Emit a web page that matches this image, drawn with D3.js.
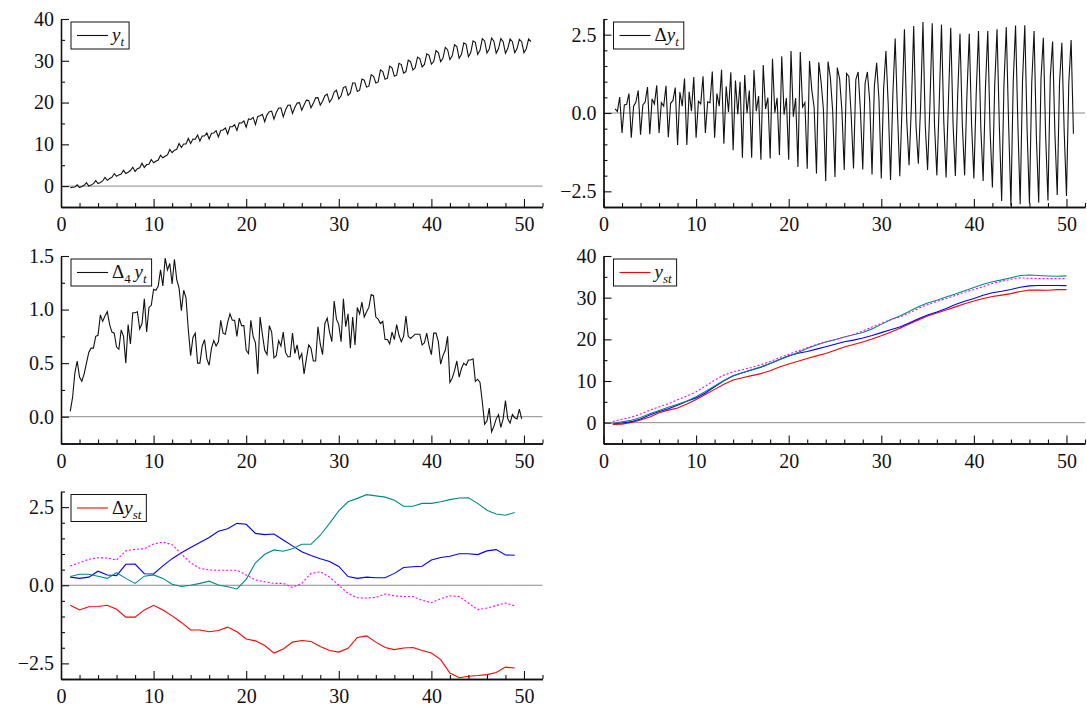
<!DOCTYPE html>
<html>
<head>
<meta charset="utf-8">
<script src="https://cdn.jsdelivr.net/npm/d3@7"></script>
<style>
  body { margin: 0; background: #fff; }
  svg { display: block; }
  svg text { font-family: "Liberation Serif", "Times New Roman", Tinos, "Nimbus Roman", "FreeSerif", "Noto Serif", "DejaVu Serif", serif !important; }
</style>
</head>
<body>
<div id="chart"></div>
<script>
// Seasonal levels y_st, years 1..50 (Q1 red, Q2 blue, Q3 teal, Q4 magenta)
const years = d3.range(1, 51);
const yQ1 = [-0.40, -0.35, 0.02, 0.62, 1.38, 2.36, 3.01, 3.51, 4.48, 5.58,
  6.77, 7.99, 9.23, 10.22, 10.79, 11.29, 11.77, 12.47, 13.35, 14.10,
  14.72, 15.41, 16.03, 16.58, 17.37, 18.15, 18.74, 19.38, 20.06, 20.85,
  21.71, 22.67, 23.69, 24.67, 25.60, 26.32, 27.04, 27.79, 28.54, 29.21,
  29.79, 30.28, 30.60, 30.97, 31.50, 31.85, 31.81, 31.79, 31.94, 31.93];
const yQ2 = [-0.27, -0.09, 0.24, 0.88, 1.83, 2.69, 3.32, 4.18, 5.16, 5.95,
  7.13, 8.61, 10.08, 11.26, 12.00, 12.66, 13.30, 14.20, 15.16, 16.08,
  16.67, 17.07, 17.65, 18.22, 18.82, 19.41, 19.81, 20.33, 20.91, 21.61,
  22.31, 22.95, 23.91, 24.93, 25.84, 26.56, 27.42, 28.36, 29.13, 29.82,
  30.60, 31.17, 31.53, 31.98, 32.51, 32.83, 32.91, 32.93, 32.91, 32.89];
const yQ3 = [-0.22, 0.19, 0.59, 1.23, 2.12, 2.91, 3.72, 4.40, 5.22, 6.24,
  7.46, 8.83, 10.11, 11.22, 12.00, 12.72, 13.43, 14.21, 15.11, 15.96,
  16.86, 17.79, 18.64, 19.35, 19.91, 20.58, 21.12, 21.64, 22.51, 23.59,
  24.69, 25.62, 26.69, 27.83, 28.70, 29.38, 30.14, 30.89, 31.66, 32.44,
  33.22, 33.84, 34.27, 34.77, 35.31, 35.45, 35.31, 35.21, 35.15, 35.22];
const yQ4 = [0.29, 0.81, 1.31, 2.06, 3.00, 3.78, 4.53, 5.50, 6.37, 7.41,
  8.78, 10.21, 11.41, 12.22, 12.72, 13.26, 13.92, 14.69, 15.59, 16.44,
  17.19, 17.96, 18.75, 19.41, 19.97, 20.51, 21.18, 22.02, 22.94, 23.85,
  24.69, 25.36, 26.29, 27.42, 28.31, 29.10, 29.80, 30.53, 31.30, 31.96,
  32.66, 33.41, 33.93, 34.41, 34.74, 34.67, 34.58, 34.56, 34.58, 34.56];

// Quarterly changes split by season, Δy_st, complete years (plotted 1..49)
const dyYears = d3.range(1, 50);
const dyQ1 = [-0.64, -0.79, -0.69, -0.68, -0.64, -0.77, -1.02, -1.02, -0.79, -0.64,
  -0.79, -0.98, -1.19, -1.43, -1.43, -1.49, -1.45, -1.34, -1.49, -1.72,
  -1.78, -1.93, -2.17, -2.04, -1.82, -1.77, -1.80, -1.96, -2.09, -2.14,
  -2.02, -1.67, -1.62, -1.82, -1.99, -2.06, -2.01, -1.99, -2.09, -2.17,
  -2.38, -2.81, -2.96, -2.91, -2.89, -2.86, -2.79, -2.62, -2.65];
const dyQ2 = [0.26, 0.22, 0.26, 0.45, 0.33, 0.31, 0.67, 0.68, 0.37, 0.36,
  0.62, 0.85, 1.04, 1.21, 1.37, 1.53, 1.73, 1.81, 1.98, 1.95,
  1.66, 1.62, 1.64, 1.45, 1.26, 1.07, 0.95, 0.85, 0.76, 0.60,
  0.28, 0.22, 0.26, 0.24, 0.24, 0.38, 0.57, 0.59, 0.61, 0.81,
  0.89, 0.93, 1.01, 1.01, 0.98, 1.10, 1.14, 0.97, 0.96];
const dyQ3 = [0.28, 0.35, 0.35, 0.29, 0.22, 0.40, 0.22, 0.06, 0.29, 0.33,
  0.22, 0.03, -0.04, 0.00, 0.06, 0.13, 0.01, -0.05, -0.12, 0.19,
  0.72, 0.99, 1.13, 1.09, 1.17, 1.31, 1.31, 1.60, 1.98, 2.38,
  2.67, 2.78, 2.90, 2.86, 2.82, 2.72, 2.53, 2.53, 2.62, 2.62,
  2.67, 2.74, 2.79, 2.80, 2.62, 2.40, 2.28, 2.24, 2.33];
const dyQ4 = [0.62, 0.72, 0.83, 0.88, 0.87, 0.81, 1.10, 1.15, 1.17, 1.32,
  1.38, 1.30, 1.00, 0.72, 0.54, 0.49, 0.48, 0.48, 0.48, 0.33,
  0.17, 0.11, 0.06, 0.06, -0.07, 0.06, 0.38, 0.43, 0.26, 0.00,
  -0.26, -0.40, -0.41, -0.39, -0.28, -0.34, -0.36, -0.36, -0.48, -0.56,
  -0.43, -0.34, -0.36, -0.57, -0.78, -0.73, -0.65, -0.57, -0.66];
// Δy_t in the first, incomplete year (quarters 2-4)
const dyFirst = [0.13, 0.05, 0.51];

const seasonColors = ["#ff0000", "#0000ff", "#008a84", "#ff00ff"];
const seasonDash = [null, null, null, "2,2"];

const xMajor = [0, 10, 20, 30, 40, 50];
const xMinor = d3.range(2, 53, 2).filter(v => v % 10 !== 0);

// Build the quarterly series from the seasonal arrays
const levels = [yQ1, yQ2, yQ3, yQ4];
const diffs = [dyQ1, dyQ2, dyQ3, dyQ4];

const yt = [];
years.forEach((yr, i) => levels.forEach((s, q) => yt.push({ x: yr + q / 4, y: s[i] })));

const dyt = dyFirst.map((v, q) => ({ x: 1.25 + q / 4, y: v }));
dyYears.forEach((yr, i) => diffs.forEach((s, q) => dyt.push({ x: yr + 1 + q / 4, y: s[i] })));

// annual change = sum of four consecutive quarterly changes
const d4yt = d3.range(dyt.length - 3).map(j => ({
  x: 1 + j / 4,
  y: d3.sum(dyt.slice(j, j + 4), d => d.y)
}));

const W = 1087, H = 706;
const svg = d3.select("#chart").append("svg").attr("width", W).attr("height", H);

const plotW = 481.5;
const cols = [61, 603.5];
const rows = [[19, 207], [256, 443.5], [491.5, 679]];
const x = d3.scaleLinear().domain([0, 52]).range([0, plotW]);

const line = (y) => d3.line().x(d => x(d.x)).y(d => y(d.y));

function drawPanel(opt) {
  const [top, bottom] = opt.row;
  const g = svg.append("g").attr("transform", `translate(${opt.left},0)`);
  const y = d3.scaleLinear().domain(opt.yDomain).range([bottom, top]);

  // zero reference line
  g.append("line")
    .attr("x1", 0).attr("x2", plotW)
    .attr("y1", y(0)).attr("y2", y(0))
    .attr("stroke", "#8a8a8a").attr("stroke-width", 1);

  opt.series.forEach(s => {
    g.append("path")
      .datum(s.data)
      .attr("d", line(y))
      .attr("fill", "none")
      .attr("stroke", s.color)
      .attr("stroke-width", 1.1)
      .attr("stroke-dasharray", s.dash);
  });

  // x axis, ticks pointing inwards
  const xa = g.append("g").attr("transform", `translate(0,${bottom})`);
  xa.append("g").call(d3.axisBottom(x).tickValues(xMinor).tickSizeInner(-4).tickSizeOuter(0).tickFormat(""));
  xa.append("g").call(d3.axisBottom(x).tickValues(xMajor).tickSizeInner(-8).tickSizeOuter(0).tickPadding(10));

  const ya = g.append("g");
  ya.append("g").call(d3.axisLeft(y).tickValues(opt.yMinor).tickSizeInner(-4).tickSizeOuter(0).tickFormat(""));
  ya.append("g").call(d3.axisLeft(y).tickValues(opt.yMajor).tickSizeInner(-8).tickSizeOuter(0).tickPadding(7).tickFormat(opt.fmt));

  g.selectAll(".domain").attr("stroke", "#111").attr("stroke-width", 1.3);
  g.selectAll(".tick line").attr("stroke", "#111").attr("stroke-width", 1.1);
  g.selectAll(".tick text").attr("font-size", 20).attr("fill", "#111");

  // legend
  const lg = g.append("g").attr("transform", `translate(10,${top + 3})`);
  const box = lg.append("rect").attr("height", 27).attr("fill", "#fff").attr("stroke", "#111").attr("stroke-width", 1);
  lg.append("line").attr("x1", 6).attr("x2", 37).attr("y1", 13.5).attr("y2", 13.5)
    .attr("stroke", opt.legend.color).attr("stroke-width", 1.1);
  const t = lg.append("text").attr("x", 41).attr("y", 19)
    .attr("font-size", 19).attr("fill", "#111");
  opt.legend.parts.forEach(p => {
    t.append("tspan")
      .text(p.t)
      .attr("font-style", p.i ? "italic" : null)
      .attr("font-size", p.sub ? 13 : null)
      .attr("dy", p.dy || null);
  });
  box.attr("width", 41 + t.node().getComputedTextLength() + 5);
}

const yLevelMajor = [0, 10, 20, 30, 40];
const yLevelMinor = [-5, 5, 15, 25, 35];
const yDiffMajor = [-2.5, 0, 2.5];
const yDiffMinor = [-3, -2, -1.5, -1, -0.5, 0.5, 1, 1.5, 2, 3];
const yD4Major = [0, 0.5, 1, 1.5];
const yD4Minor = [-0.25, 0.25, 0.75, 1.25];

const labY = [{ t: "y", i: 1 }, { t: "t", i: 1, sub: 1, dy: 5 }];
const labDY = [{ t: "\u0394" }, { t: "y", i: 1 }, { t: "t", i: 1, sub: 1, dy: 5 }];
const labD4Y = [{ t: "\u0394" }, { t: "4", sub: 1, dy: 5 }, { t: "\u2009", dy: -5 }, { t: "y", i: 1 }, { t: "t", i: 1, sub: 1, dy: 5 }];
const labYS = [{ t: "y", i: 1 }, { t: "st", i: 1, sub: 1, dy: 5 }];
const labDYS = [{ t: "\u0394" }, { t: "y", i: 1 }, { t: "st", i: 1, sub: 1, dy: 5 }];

drawPanel({
  left: cols[0], row: rows[0], yDomain: [-5, 40], yMajor: yLevelMajor, yMinor: yLevelMinor, fmt: d3.format("d"),
  series: [{ data: yt, color: "#111" }],
  legend: { color: "#111", parts: labY }
});
drawPanel({
  left: cols[1], row: rows[0], yDomain: [-3, 3], yMajor: yDiffMajor, yMinor: yDiffMinor, fmt: d3.format(".1f"),
  series: [{ data: dyt, color: "#111" }],
  legend: { color: "#111", parts: labDY }
});
drawPanel({
  left: cols[0], row: rows[1], yDomain: [-0.25, 1.5], yMajor: yD4Major, yMinor: yD4Minor, fmt: d3.format(".1f"),
  series: [{ data: d4yt, color: "#111" }],
  legend: { color: "#111", parts: labD4Y }
});
drawPanel({
  left: cols[1], row: rows[1], yDomain: [-5, 40], yMajor: yLevelMajor, yMinor: yLevelMinor, fmt: d3.format("d"),
  series: levels.map((s, q) => ({ data: years.map((yr, i) => ({ x: yr, y: s[i] })), color: seasonColors[q], dash: seasonDash[q] })),
  legend: { color: seasonColors[0], parts: labYS }
});
drawPanel({
  left: cols[0], row: rows[2], yDomain: [-3, 3], yMajor: yDiffMajor, yMinor: yDiffMinor, fmt: d3.format(".1f"),
  series: diffs.map((s, q) => ({ data: dyYears.map((yr, i) => ({ x: yr, y: s[i] })), color: seasonColors[q], dash: seasonDash[q] })),
  legend: { color: seasonColors[0], parts: labDYS }
});
</script>
</body>
</html>
